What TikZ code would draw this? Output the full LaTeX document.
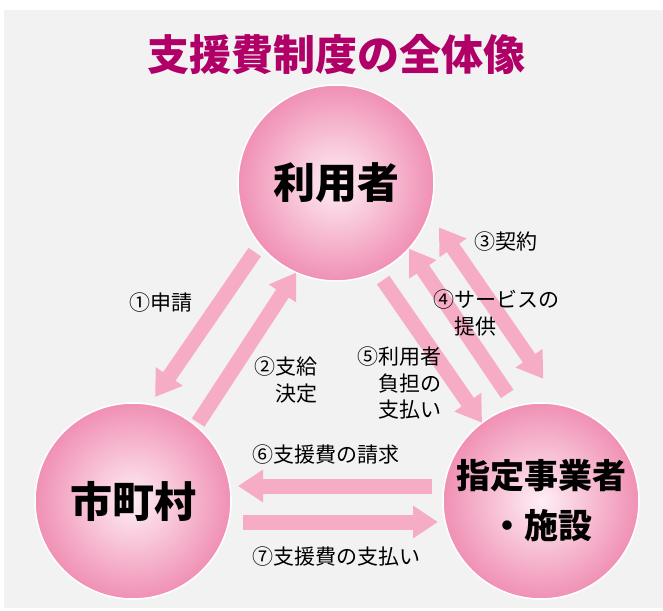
\documentclass[tikz,border=0pt]{standalone}
\usepackage{fontspec}
\setmainfont{Noto Sans CJK JP}
\newfontfamily\heavyfont{Noto Sans CJK JP Black}
\usetikzlibrary{arrows.meta}
\definecolor{bggray}{RGB}{242,242,242}
\definecolor{titlered}{RGB}{176,0,104}
\definecolor{flowpink}{RGB}{247,172,198}
\definecolor{ballpink}{RGB}{240,144,180}
\definecolor{ballwhite}{RGB}{254,238,245}
\begin{document}
\begin{tikzpicture}[x=1pt, y=-1pt, >={Triangle[width=31pt,length=25pt]},
    ball/.style={circle, minimum size=196pt, inner sep=0pt, outer sep=0pt, draw=white, line width=1.5pt,
        inner color=ballwhite, outer color=ballpink, align=center, font=\fontsize{42}{50}\heavyfont},
    flow/.style={draw=flowpink, line width=15pt},
    lbl/.style={inner sep=0pt, font=\fontsize{21}{26.5}\selectfont}]
\useasboundingbox (0,0) rectangle (663,610);
\fill[bggray] (4,10) rectangle (663,608);
\node[text=titlered, font=\fontsize{42}{50}\heavyfont] (title) at (336,55){支援費制度の全体像};
\node[ball] (user) at (336,183){利用者};
\node[ball] (city) at (133,501){市町村};
\node[ball, font=\fontsize{34}{50}\heavyfont] (firm) at (541,501){指定事業者\\・施設};
% user <-> city
\draw[flow, ->, shorten <=9pt, shorten >=9pt] (user.219.5) -- (city.80.7);
\draw[flow, ->, shorten <=4pt] (city.50.3) -- (user.246.1);
% user <-> firm
\draw[flow, <->, shorten <=17pt, shorten >=32pt] (user.342) -- (firm.78);
\draw[flow, ->, shorten <=15pt] (firm.105.1) -- (user.318.4);
\draw[flow, ->, shorten <=10pt] (user.295.2) -- (firm.127.1);
% firm <-> city
\draw[flow, ->, shorten <=11pt, shorten >=7pt] ([yshift=15pt]firm.west) -- ([yshift=15pt]city.east);
\draw[flow, ->, shorten <=12pt, shorten >=5pt] ([yshift=-21pt]city.east) -- ([yshift=-21pt]firm.west);
\node[lbl] (l1) at (161,303){①申請};
\node[lbl, align=right, anchor=east] (l2) at (318,380){②支給\\決定};
\node[lbl] (l3) at (506,242){③契約};
\node[lbl, align=left, anchor=west] (l4) at (433,313){④サービスの\\　提供};
\node[lbl, align=right, anchor=east] (l5) at (442,383){⑤利用者\\負担の\\支払い};
\node[lbl, anchor=west] (l6) at (252,455){⑥支援費の請求};
\node[lbl, anchor=west] (l7) at (252,557){⑦支援費の支払い};
\end{tikzpicture}
\end{document}
